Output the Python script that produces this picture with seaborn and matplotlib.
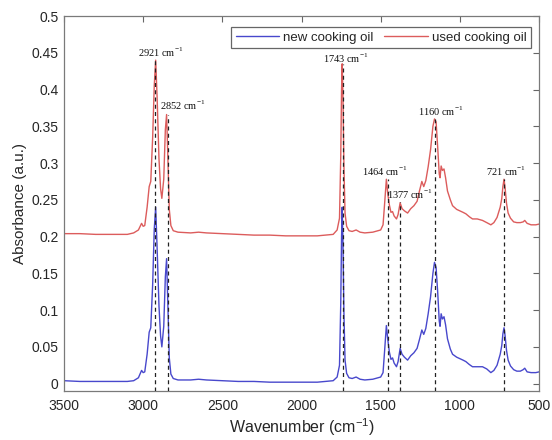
import matplotlib
matplotlib.use("Agg")
import matplotlib.pyplot as plt
import numpy as np
import pandas as pd
import seaborn as sns

# ---- data ----
wavenumber = [3500, 3400, 3300, 3200, 3100, 3060, 3030, 3010, 3000, 2990,
              2975, 2962, 2952, 2940, 2930, 2921, 2912, 2900, 2890, 2882,
              2870, 2860, 2852, 2845, 2835, 2825, 2810, 2780, 2700, 2650,
              2600, 2500, 2400, 2300, 2200, 2100, 2000, 1900, 1850, 1800,
              1775, 1760, 1752, 1747, 1743, 1738, 1732, 1725, 1715, 1700,
              1680, 1655, 1630, 1600, 1550, 1500, 1485, 1475, 1464, 1455,
              1445, 1435, 1425, 1415, 1400, 1390, 1377, 1365, 1350, 1330,
              1310, 1290, 1270, 1255, 1240, 1228, 1215, 1200, 1185, 1170,
              1160, 1150, 1140, 1130, 1125, 1118, 1110, 1100, 1090, 1078,
              1060, 1046, 1020, 1000, 980, 962, 940, 920, 890, 857,
              830, 804, 785, 765, 745, 735, 728, 721, 714, 705,
              695, 680, 660, 640, 618, 600, 590, 575, 550, 520, 500]

new_oil = [0.004, 0.003, 0.003, 0.003, 0.003, 0.004, 0.008, 0.018, 0.015, 0.016,
           0.040, 0.070, 0.076, 0.135, 0.210, 0.240, 0.185, 0.105, 0.065, 0.050,
           0.078, 0.145, 0.170, 0.115, 0.035, 0.013, 0.007, 0.005, 0.005, 0.006,
           0.005, 0.004, 0.003, 0.003, 0.002, 0.002, 0.002, 0.002, 0.003, 0.004,
           0.009, 0.025, 0.110, 0.200, 0.240, 0.190, 0.095, 0.032, 0.014, 0.008,
           0.007, 0.009, 0.006, 0.005, 0.006, 0.009, 0.015, 0.045, 0.079, 0.060,
           0.043, 0.033, 0.035, 0.028, 0.023, 0.030, 0.048, 0.040, 0.036, 0.032,
           0.038, 0.042, 0.048, 0.060, 0.073, 0.067, 0.075, 0.095, 0.118, 0.150,
           0.165, 0.158, 0.125, 0.085, 0.078, 0.095, 0.088, 0.091, 0.080, 0.061,
           0.047, 0.040, 0.036, 0.034, 0.032, 0.030, 0.026, 0.023, 0.023, 0.023,
           0.020, 0.015, 0.018, 0.025, 0.040, 0.052, 0.068, 0.076, 0.065, 0.045,
           0.032, 0.024, 0.019, 0.017, 0.017, 0.019, 0.021, 0.016, 0.015, 0.015, 0.016]

used_oil = [0.204, 0.204, 0.203, 0.203, 0.203, 0.205, 0.209, 0.218, 0.214, 0.215,
            0.240, 0.268, 0.275, 0.335, 0.405, 0.440, 0.390, 0.305, 0.265, 0.252,
            0.278, 0.345, 0.366, 0.315, 0.237, 0.215, 0.208, 0.206, 0.205, 0.206,
            0.205, 0.204, 0.203, 0.202, 0.202, 0.201, 0.201, 0.201, 0.202, 0.203,
            0.209, 0.225, 0.310, 0.400, 0.435, 0.390, 0.295, 0.232, 0.214, 0.208,
            0.207, 0.209, 0.206, 0.205, 0.206, 0.209, 0.216, 0.245, 0.278, 0.258,
            0.243, 0.233, 0.234, 0.228, 0.224, 0.230, 0.246, 0.238, 0.235, 0.232,
            0.238, 0.242, 0.248, 0.262, 0.275, 0.268, 0.276, 0.295, 0.318, 0.350,
            0.360, 0.356, 0.322, 0.285, 0.280, 0.296, 0.290, 0.292, 0.280, 0.262,
            0.250, 0.242, 0.237, 0.235, 0.233, 0.231, 0.227, 0.224, 0.224, 0.222,
            0.219, 0.216, 0.219, 0.226, 0.240, 0.252, 0.268, 0.278, 0.266, 0.245,
            0.232, 0.225, 0.220, 0.219, 0.219, 0.220, 0.222, 0.218, 0.216, 0.216, 0.217]

series_names = ["new cooking oil", "used cooking oil"]

peak_labels = ["2921", "2852", "1743", "1464", "1377", "1160", "721"]
peak_line_x = [2924, 2845, 1740, 1452, 1375, 1158, 719]
peak_line_top = [0.440, 0.366, 0.435, 0.278, 0.247, 0.360, 0.278]
label_x = [2892, 2751, 1720, 1473, 1316, 1120, 710]
label_y = [0.4505, 0.378, 0.442, 0.289, 0.257, 0.370, 0.289]

x_ticks = [3500, 3000, 2500, 2000, 1500, 1000, 500]
y_ticks = [0, 0.05, 0.1, 0.15, 0.2, 0.25, 0.3, 0.35, 0.4, 0.45, 0.5]

# ---- build long-form table ----
df = pd.DataFrame({
    "Wavenumber": wavenumber * 2,
    "Absorbance": new_oil + used_oil,
    "Sample": [series_names[0]] * len(wavenumber) + [series_names[1]] * len(wavenumber),
})

sns.set_theme(style="white")
plt.rcParams["font.family"] = ["Liberation Sans", "DejaVu Sans"]

fig = plt.figure(figsize=(5.52, 4.4), dpi=100)
ax = fig.add_axes([64 / 552, 1 - 391 / 440, (539 - 64) / 552, (391 - 16) / 440])

palette = {series_names[0]: "#4848cc", series_names[1]: "#dc5c5c"}
sns.lineplot(data=df, x="Wavenumber", y="Absorbance", hue="Sample",
             palette=palette, estimator=None, sort=True, linewidth=1.0, ax=ax)

ax.vlines(peak_line_x, ymin=-0.01, ymax=peak_line_top, colors="#222222",
          linestyles=(0, (3.2, 2.6)), linewidth=0.9, zorder=4)

for lab, lx, ly in zip(peak_labels, label_x, label_y):
    ax.text(lx, ly, lab + r" cm$^{\mathregular{-1}}$", ha="center", va="center",
            fontsize=7.5, family=["Liberation Serif", "DejaVu Serif"], color="#111111")

ax.set_xlim(3500, 500)
ax.set_ylim(-0.01, 0.5)
ax.set_xticks(x_ticks)
ax.set_yticks(y_ticks)
ax.set_yticklabels([f"{v:g}" for v in y_ticks])
ax.set_xticklabels([str(v) for v in x_ticks])

ax.tick_params(direction="in", top=True, right=True, length=4.5, width=0.8,
               color="#666666", labelsize=10, labelcolor="#262626")
ax.tick_params(axis="x", pad=6)
ax.tick_params(axis="y", pad=4)
for sp in ax.spines.values():
    sp.set_visible(True)
    sp.set_color("#7a7a7a")
    sp.set_linewidth(0.9)

ax.set_xlabel(r"Wavenumber (cm$^{\mathregular{-1}}$)", fontsize=11.5, color="#262626", labelpad=2)
ax.set_ylabel("Absorbance (a.u.)", fontsize=11, color="#262626", labelpad=3)

handles, labels = ax.get_legend_handles_labels()
leg = ax.legend(handles, labels, ncol=2, loc="upper right",
                bbox_to_anchor=(531 / 552, 1 - 27 / 440), bbox_transform=fig.transFigure,
                fontsize=9.5, frameon=True, fancybox=False, framealpha=1,
                edgecolor="#666666", handlelength=3.3, handletextpad=0.3,
                columnspacing=0.8, borderpad=0.35, borderaxespad=0)
leg.get_frame().set_linewidth(0.9)
for t in leg.get_texts():
    t.set_color("#262626")

fig.savefig("out.png", dpi=100)
